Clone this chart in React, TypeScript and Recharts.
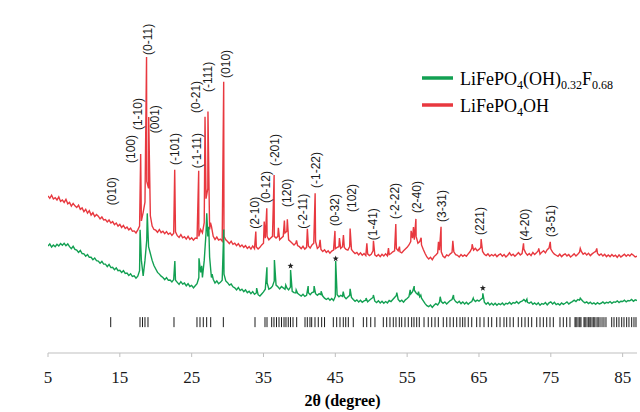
import React from "react";
import { ComposedChart, Line, Scatter, XAxis, YAxis, ReferenceDot, Legend } from "recharts";

// step scan: intensities below are read every 0.25° starting at 5°
const SCAN_START = 5;
const SCAN_STEP = 0.25;

const RED = "#e8383f";
const GREEN = "#12a052";
const AXIS = "#bfbfbf";
const SERIF = "'Liberation Serif', 'Times New Roman', serif";
const SANS = "'Liberation Sans', Arial, sans-serif";

// LiFePO4OH background, one row per degree
const redBaseline = [
  45.8, 45.1, 46.0, 44.9, 45.3, 44.6, 45.5, 44.2, 44.6, 43.9, 44.8, 43.5,
  43.9, 42.8, 43.6, 42.9, 42.4, 43.1, 41.9, 42.3, 41.2, 41.9, 40.8, 41.5,
  40.2, 40.9, 39.8, 40.4, 39.9, 39.1, 39.7, 38.8, 38.9, 38.2, 38.8, 37.9,
  38.3, 37.4, 37.9, 37.0, 37.5, 36.6, 37.2, 36.3, 36.7, 35.9, 36.4, 35.5,
  35.6, 35.0, 35.9, 37.0, 38.5, 41.0, 44.0, 50.0, 48.0, 40.0, 37.0, 36.0,
  35.8, 35.2, 36.0, 35.1, 35.5, 34.8, 35.4, 34.6, 35.0, 34.3, 34.9, 35.3,
  34.2, 33.7, 34.5, 33.6, 33.9, 33.2, 34.0, 33.1, 33.6, 32.9, 33.5, 33.4,
  34.0, 36.0, 35.0, 38.0, 45.0, 48.0, 36.0, 37.0, 34.0, 33.1, 33.8, 32.9,
  33.2, 32.6, 34.0, 33.0, 32.5, 31.9, 32.6, 31.7, 32.0, 31.3, 31.9, 31.0,
  31.5, 30.8, 31.3, 30.5, 31.0, 30.3, 31.2, 30.4, 30.9, 30.3, 30.8, 31.5,
  32.0, 33.5, 34.0, 33.0, 33.5, 34.0, 34.0, 33.5, 34.0, 33.0, 33.5, 34.0,
  35.0, 35.5, 33.0, 32.5, 32.0, 31.5, 32.0, 31.3, 31.0, 30.4, 31.1, 30.3,
  30.8, 31.2, 30.6, 31.5, 32.0, 32.5, 30.5, 31.0, 30.2, 29.6, 30.1, 29.3,
  29.8, 29.1, 29.7, 30.0, 30.4, 30.8, 31.0, 30.5, 31.0, 30.8, 30.2, 30.0,
  31.0, 30.2, 29.5, 29.0, 29.3, 28.6, 29.2, 28.5, 29.0, 28.4, 28.9, 28.4,
  28.8, 29.8, 28.6, 28.2, 28.7, 28.1, 28.8, 28.3, 28.9, 28.3, 28.7, 29.0,
  29.5, 29.8, 30.5, 29.8, 29.5, 29.2, 29.8, 30.3, 30.8, 31.5, 32.5, 33.5,
  33.0, 34.0, 32.0, 32.5, 31.5, 30.2, 29.0, 28.0, 27.4, 27.9, 27.2, 28.1,
  28.6, 29.2, 30.0, 29.5, 28.2, 27.8, 28.6, 28.3, 28.9, 29.3, 29.5, 28.7,
  28.5, 28.0, 28.7, 28.2, 28.6, 28.2, 28.9, 29.5, 30.5, 30.0, 30.5, 29.8,
  30.2, 30.8, 29.6, 28.8, 28.4, 28.9, 28.2, 28.7, 28.3, 28.8, 28.1, 28.6,
  28.9, 28.2, 28.7, 28.0, 28.5, 29.2, 28.4, 28.8, 28.2, 28.7, 29.3, 28.6,
  29.0, 30.3, 29.2, 28.5, 29.0, 28.4, 29.3, 28.7, 29.2, 29.8, 28.8, 29.4,
  29.8, 29.2, 30.1, 30.6, 30.3, 29.4, 28.8, 28.5, 28.2, 28.8, 28.1, 28.6,
  28.9, 28.3, 28.7, 28.0, 28.4, 28.9, 28.3, 28.8, 29.4, 29.6, 28.8, 29.2,
  28.6, 29.1, 28.4, 28.9, 29.3, 29.6, 29.0, 28.5, 28.9, 28.3, 28.8, 28.1,
  28.6, 28.1, 28.7, 28.2, 28.5, 27.9, 28.6, 28.0, 28.4, 28.8, 28.2, 28.7,
  28.3, 28.9, 28.5, 28.0, 28.2,
];

const redPeaks: [number, number][] = [
  [17.9, 58.0], [18.72, 86.3], [19.02, 68.8], [22.64, 53.4], [25.98, 53.1],
  [26.86, 68.9], [27.27, 70.4], [27.62, 38.0], [29.46, 79.1], [33.93, 35.4],
  [35.1, 38.3], [35.46, 42.2], [36.48, 51.9], [37.07, 36.5], [37.91, 38.6],
  [38.32, 39.0], [39.6, 32.8], [41.11, 36.2], [42.19, 46.6], [42.88, 33.0],
  [44.95, 35.6], [45.57, 33.5], [46.13, 34.4], [47.06, 36.3], [49.39, 32.0],
  [50.31, 32.7], [52.4, 30.6], [53.42, 37.6], [53.93, 31.0], [55.55, 35.6],
  [55.88, 36.7], [56.22, 39.1], [56.95, 33.6], [59.36, 32.4], [59.72, 36.8],
  [61.36, 32.7], [64.05, 31.7], [65.3, 33.2], [71.2, 32.0], [73.32, 30.5],
  [74.92, 32.4], [79.1, 30.5], [81.4, 30.5],
];

// LiFePO4(OH)0.32F0.68 background, one row per degree
const greenBaseline = [
  31.2, 31.8, 30.9, 31.5, 31.0, 31.7, 31.2, 31.9, 31.4, 32.0, 31.3, 31.8,
  31.0, 30.4, 31.1, 30.2, 30.0, 29.3, 29.9, 29.0, 28.9, 28.2, 28.7, 27.9,
  27.9, 27.2, 27.7, 26.9, 26.8, 26.2, 26.7, 25.9, 25.9, 25.2, 25.8, 24.9,
  25.0, 24.3, 24.8, 24.0, 24.1, 23.5, 24.0, 23.2, 23.3, 22.6, 23.1, 22.3,
  22.5, 21.8, 22.4, 24.0, 27.0, 22.5, 27.0, 33.0, 31.0, 29.0, 27.0, 25.5,
  24.5, 23.5, 23.0, 22.4, 22.0, 21.4, 22.0, 21.2, 21.3, 20.7, 21.4, 21.2,
  20.6, 20.0, 20.8, 20.1, 20.4, 19.6, 20.2, 19.4, 19.7, 19.0, 19.6, 20.2,
  22.0, 23.5, 22.0, 27.0, 35.0, 34.0, 28.0, 22.0, 21.5, 20.4, 21.0, 20.2,
  20.6, 21.2, 23.0, 21.0, 20.5, 19.8, 20.1, 19.3, 19.0, 18.4, 19.1, 18.2,
  18.6, 17.9, 18.4, 17.6, 18.0, 17.3, 17.9, 17.1, 17.5, 17.0, 16.6, 17.2,
  17.8, 18.6, 20.5, 18.6, 18.9, 19.5, 21.0, 19.8, 19.3, 18.7, 19.4, 19.0,
  18.6, 19.0, 18.4, 19.2, 18.0, 17.6, 17.5, 17.4, 17.0, 16.6, 17.1, 16.5,
  16.8, 17.6, 17.0, 17.6, 17.8, 17.3, 16.8, 17.3, 17.0, 16.6, 16.0, 15.6,
  16.0, 15.4, 15.9, 15.3, 16.5, 17.0, 16.4, 16.8, 16.5, 16.4, 15.8, 16.3,
  16.8, 16.2, 15.6, 15.1, 15.5, 14.9, 15.4, 14.8, 15.2, 15.4, 14.9, 15.4,
  15.8, 16.2, 15.1, 14.7, 15.2, 14.6, 15.1, 14.5, 15.0, 14.6, 15.3, 15.0,
  15.6, 16.2, 16.8, 15.6, 15.0, 15.4, 14.8, 15.5, 15.9, 16.4, 17.2, 17.9,
  18.3, 17.5, 17.0, 16.4, 16.0, 15.2, 14.4, 13.8, 13.5, 14.0, 13.3, 13.9,
  14.4, 14.0, 14.8, 15.0, 14.5, 14.9, 14.3, 14.8, 15.3, 15.6, 15.8, 15.0,
  14.6, 15.1, 14.4, 14.9, 14.3, 14.8, 14.2, 14.7, 15.0, 15.6, 15.0, 15.4,
  15.1, 15.6, 16.0, 14.8, 14.2, 14.7, 14.0, 14.5, 14.0, 14.5, 13.9, 14.4,
  14.1, 14.6, 14.0, 14.5, 14.3, 14.8, 14.2, 14.7, 14.5, 15.0, 14.4, 14.9,
  15.1, 15.6, 15.0, 14.8, 14.5, 14.9, 14.2, 14.6, 14.1, 14.6, 13.9, 14.4,
  14.2, 14.7, 14.0, 14.6, 14.9, 14.3, 14.8, 14.1, 14.4, 14.0, 14.6, 14.2,
  14.5, 14.9, 14.3, 14.7, 15.0, 15.4, 15.0, 15.6, 15.4, 15.6, 15.0, 14.6,
  14.9, 14.4, 14.8, 14.3, 14.6, 14.2, 14.7, 14.3, 14.5, 14.9, 14.4, 14.8,
  14.6, 15.0, 14.5, 14.9, 14.8, 15.2, 14.7, 15.1, 15.0, 15.4, 14.9, 15.3,
  15.2, 15.6, 15.1, 15.5, 15.3,
];

const greenPeaks: [number, number][] = [
  [17.82, 35.9], [18.82, 40.7], [22.66, 26.8], [26.02, 27.6], [26.4, 25.4],
  [27.1, 40.7], [27.38, 36.8], [27.85, 23.0], [29.47, 36.0], [34.05, 18.9],
  [35.48, 25.0], [36.52, 27.1], [38.1, 19.8], [38.77, 24.2], [39.55, 18.4],
  [41.22, 19.5], [42.05, 19.5], [43.02, 18.0], [45.05, 26.8], [46.1, 17.9],
  [47.06, 18.7], [49.28, 16.0], [50.3, 16.9], [53.56, 17.6], [55.42, 18.4],
  [55.98, 19.5], [56.58, 17.9], [56.9, 16.9], [59.6, 16.4], [61.45, 16.9],
  [64.2, 16.0], [65.54, 17.4], [71.67, 15.7], [79.1, 16.0],
];

// reference reflection positions (bar row under the patterns)
const reflectionTheta = [
  13.73, 17.81, 18.16, 18.5, 18.92, 22.54, 25.74, 26.16, 26.62, 27.09, 27.65,
  29.41, 33.82, 35.21, 35.49, 36.14, 36.46, 36.81, 37.16, 37.51, 37.86, 38.13,
  38.45, 38.76, 39.11, 39.62, 40.78, 41.1, 41.47, 41.71, 42.17, 42.63, 43.1,
  43.5, 44.72, 45.19, 45.65, 46.11, 46.45, 46.81, 47.5, 48.9, 49.37, 49.93,
  50.52, 51.68, 52.15, 52.61, 53.07, 53.45, 53.91, 54.24, 54.7, 55.16, 55.63,
  55.95, 56.33, 56.69, 57.35, 57.94, 58.42, 58.88, 59.34, 60.03, 60.51, 60.97,
  61.43, 61.9, 62.36, 62.73, 63.05, 63.51, 63.99, 64.68, 65.14, 65.7, 66.3,
  66.77, 67.47, 67.93, 68.48, 68.86, 69.32, 69.78, 70.47, 70.95, 71.41, 71.87,
  72.34, 73.04, 73.5, 73.96, 74.43, 74.89, 75.35, 76.28, 76.74, 77.21, 77.67,
  78.37, 78.5, 78.65, 78.92, 79.05, 79.2, 79.62, 79.75, 79.9, 80.18, 80.3,
  80.46, 80.6, 80.87, 81.0, 81.15, 81.43, 81.6, 81.85, 82.13, 82.4, 82.68,
  83.48, 83.8, 84.17, 84.49, 84.87, 85.19, 85.56, 85.88, 86.26, 86.58, 86.86,
];
const REFLECTION_ROW = 9;

// Miller indices: [2θ, intensity at the foot of the label, text]
const hklLabels: [number, number, string][] = [
  [13.91, 43.1, "(010)"], [16.56, 55.4, "(100)"], [17.53, 65.0, "(1-10)"],
  [18.92, 86.9, "(0-11)"], [19.9, 64.1, "(001)"], [22.68, 54.8, "(-101)"],
  [25.74, 53.9, "(-1-11)"], [25.67, 70.0, "(0-21)"], [27.27, 76.1, "(-111)"],
  [29.78, 80.2, "(010)"], [33.82, 36.2, "(2-10)"], [35.35, 43.7, "(0-12)"],
  [36.6, 54.5, "(-201)"], [38.27, 42.6, "(120)"], [40.5, 36.2, "(-2-11)"],
  [42.31, 48.1, "(-1-22)"], [44.96, 37.0, "(0-32)"], [47.32, 41.1, "(102)"],
  [50.25, 32.9, "(1-41)"], [53.31, 39.1, "(-2-22)"], [56.37, 40.8, "(2-40)"],
  [59.85, 38.2, "(3-31)"], [65.14, 34.4, "(221)"], [71.41, 32.7, "(4-20)"],
  [75.03, 33.8, "(3-51)"],
];

// impurity peaks marked with a star on the fluorinated pattern
const impurityMarks: [number, number][] = [[38.77, 25.4], [45.05, 27.5], [65.54, 18.9]];

const xTicks = [5, 15, 25, 35, 45, 55, 65, 75, 85];

type Part = [string, boolean];
const legendItems: { color: string; parts: Part[] }[] = [
  { color: GREEN, parts: [["LiFePO", false], ["4", true], ["(OH)", false], ["0.32", true], ["F", false], ["0.68", true]] },
  { color: RED, parts: [["LiFePO", false], ["4", true], ["OH", false]] },
];

function buildPattern(baseline: number[], peaks: [number, number][]) {
  const pts = baseline.map((v, i) => ({ theta: SCAN_START + i * SCAN_STEP, intensity: v }));
  peaks.forEach(([theta, intensity]) => pts.push({ theta, intensity }));
  return pts.sort((a, b) => a.theta - b.theta);
}

const redData = buildPattern(redBaseline, redPeaks);
const greenData = buildPattern(greenBaseline, greenPeaks);
const reflectionData = reflectionTheta.map((theta) => ({ theta, intensity: REFLECTION_ROW }));

const ReflectionMark = (props: any) => (
  <line x1={props.cx} x2={props.cx} y1={props.cy - 5} y2={props.cy + 5} stroke="#1a1a1a" strokeWidth={1} />
);

const hklShape = (text: string) => (props: any) => (
  <text
    x={props.cx}
    y={props.cy}
    transform={`rotate(-90 ${props.cx} ${props.cy})`}
    fontSize={12}
    fontFamily={SANS}
    fill="#1a1a1a"
    dominantBaseline="central"
  >
    {text}
  </text>
);

const StarShape = (props: any) => {
  const { cx, cy } = props;
  const pts: string[] = [];
  for (let k = 0; k < 10; k++) {
    const r = k % 2 === 0 ? 3.2 : 1.3;
    const a = -Math.PI / 2 + (k * Math.PI) / 5;
    pts.push(`${cx + r * Math.cos(a)},${cy + r * Math.sin(a)}`);
  }
  return <polygon points={pts.join(" ")} fill="#222" />;
};

const XTitle = (props: any) => {
  const vb = props.viewBox || { x: 0, y: 0, width: 0 };
  return (
    <text x={vb.x + vb.width / 2} y={vb.y + 53} textAnchor="middle" fontFamily={SERIF} fontWeight="bold" fontSize={16} fill="#000">
      2θ (degree)
    </text>
  );
};

const YTitle = (props: any) => {
  const vb = props.viewBox || { x: 0, y: 0, height: 0 };
  const x = vb.x - 23;
  const y = vb.y + vb.height / 2 + 5;
  return (
    <text x={x} y={y} transform={`rotate(-90 ${x} ${y})`} textAnchor="middle" fontFamily={SERIF} fontWeight="bold" fontSize={16} fill="#000">
      Intensity (a.u.)
    </text>
  );
};

const LegendBox = () => (
  <svg width={225} height={60}>
    {legendItems.map((item, i) => {
      const y = 18 + i * 27;
      let prevSub = false;
      return (
        <g key={i}>
          <line x1={7} x2={38} y1={y} y2={y} stroke={item.color} strokeWidth={3.5} />
          <text x={45} y={y + 7} fontFamily={SERIF} fontSize={18} fill="#000">
            {item.parts.map(([t, sub], k) => {
              const dy = (sub ? 4 : 0) - (prevSub ? 4 : 0);
              prevSub = sub;
              return (
                <tspan key={k} dy={dy} fontSize={sub ? 12 : 18}>
                  {t}
                </tspan>
              );
            })}
          </text>
        </g>
      );
    })}
  </svg>
);

export default function App() {
  return (
    <div style={{ position: "fixed", left: 0, top: 0, width: 640, height: 412, background: "#fff" }}>
      <ComposedChart width={640} height={412} margin={{ top: 10, right: 3, bottom: 0, left: 48 }}>
        <XAxis
          type="number"
          dataKey="theta"
          domain={[5, 87]}
          ticks={xTicks}
          interval={0}
          allowDataOverflow
          height={59}
          tickSize={4}
          tickMargin={14}
          tick={{ fontSize: 17, fontFamily: SERIF, fill: "#1a1a1a" }}
          tickLine={{ stroke: AXIS }}
          axisLine={{ stroke: AXIS }}
          label={<XTitle />}
        />
        <YAxis
          type="number"
          dataKey="intensity"
          domain={[0, 100]}
          allowDataOverflow
          width={0}
          tick={false}
          tickLine={false}
          axisLine={{ stroke: AXIS }}
          label={<YTitle />}
        />
        <Legend
          layout="vertical"
          align="center"
          verticalAlign="middle"
          wrapperStyle={{ left: 415, top: 60, width: 225 }}
          content={<LegendBox />}
        />
        <Scatter data={reflectionData} shape={ReflectionMark} isAnimationActive={false} legendType="none" />
        <Line data={redData} dataKey="intensity" type="linear" stroke={RED} strokeWidth={1.4} dot={false} isAnimationActive={false} />
        <Line data={greenData} dataKey="intensity" type="linear" stroke={GREEN} strokeWidth={1.4} dot={false} isAnimationActive={false} />
        {hklLabels.map(([theta, intensity, text], i) => (
          <ReferenceDot key={`hkl-${i}`} x={theta} y={intensity} r={0} ifOverflow="visible" shape={hklShape(text)} />
        ))}
        {impurityMarks.map(([theta, intensity], i) => (
          <ReferenceDot key={`star-${i}`} x={theta} y={intensity} r={3} ifOverflow="visible" shape={StarShape} />
        ))}
      </ComposedChart>
    </div>
  );
}
